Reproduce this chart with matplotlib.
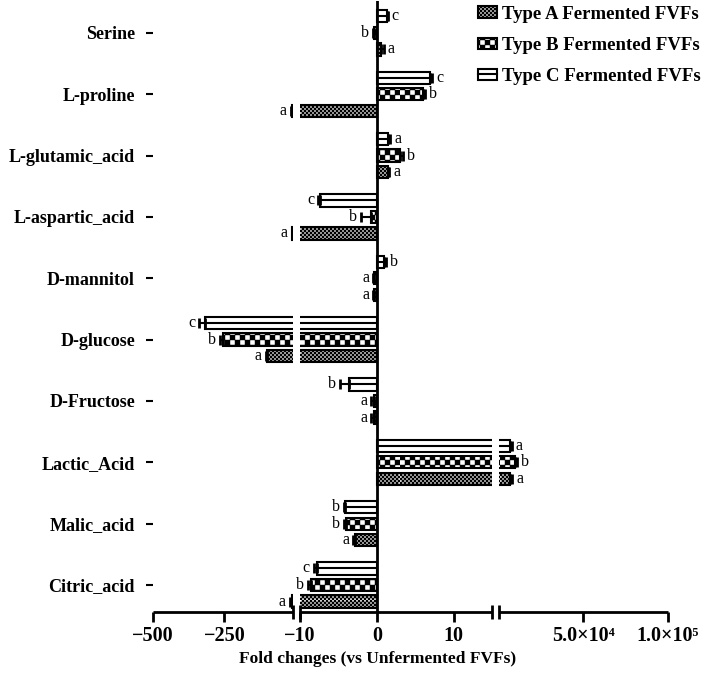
import numpy as np
import matplotlib
matplotlib.use('Agg')
import matplotlib.pyplot as plt
from matplotlib import hatch as mhatch
from matplotlib.path import Path
from matplotlib.patches import Patch, Rectangle
from matplotlib.lines import Line2D
from matplotlib.legend_handler import HandlerBase

# data (bottom -> top)
compounds = ['Citric_acid', 'Malic_acid', 'Lactic_Acid', 'D-Fructose', 'D-glucose',
             'D-mannitol', 'L-aspartic_acid', 'L-glutamic_acid', 'L-proline', 'Serine']
type_a = [-12, -2.8, 6800, -0.4, -100, -0.3, -12, 1.5, -14, 0.6]
type_b = [-8.6, -4.0, 9500, -0.4, -254, -0.3, -0.8, 3.0, 6.0, -0.3]
type_c = [-7.8, -4.2, 6500, -3.6, -318, 1.0, -7.4, 1.5, 6.9, 1.3]
err_a = [8, 0.25, 1200, 0.3, 4, 0.15, 2, 0.1, 3, 0.3]
err_b = [0.3, 0.3, 1200, 0.3, 10, 0.15, 1.3, 0.4, 0.3, 0.2]
err_c = [0.4, 0.1, 1000, 1.2, 20, 0.2, 0.2, 0.2, 0.3, 0.1]
letters_a = ['a', 'a', 'a', 'a', 'a', 'a', 'a', 'a', 'a', 'a']
letters_b = ['b', 'b', 'b', 'a', 'b', 'a', 'b', 'b', 'b', 'b']
letters_c = ['c', 'b', 'a', 'b', 'c', 'b', 'c', 'a', 'c', 'c']
series_labels = ['Type A Fermented FVFs', 'Type B Fermented FVFs', 'Type C Fermented FVFs']
tick_vals = [-500, -250, -10, 0, 10, 5e4, 1e5]
tick_text = ['\u2212500', '\u2212250', '\u221210', '0', '10', '5.0\u00d710\u2074', '1.0\u00d710\u2075']

plt.rcParams['font.family'] = ['Liberation Serif', 'DejaVu Serif']
plt.rcParams['hatch.linewidth'] = 0.3


# checkerboard hatch, replaces the '*' pattern
class Checker(mhatch.HatchPatternBase):
    def __init__(self, hatch, density):
        self.n = 10 * hatch.count('*')
        self.num_vertices = (self.n * self.n // 2) * 5

    def set_vertices_and_codes(self, vertices, codes):
        s = 1.0 / self.n
        sq = np.array([[0, 0], [s, 0], [s, s], [0, s], [0, 0]])
        parts = [sq + [i * s, j * s] for i in range(self.n) for j in range(self.n)
                 if (i + j) % 2 == 0]
        vertices[:] = np.concatenate(parts)
        c = [Path.MOVETO, Path.LINETO, Path.LINETO, Path.LINETO, Path.CLOSEPOLY]
        codes[:] = np.tile(c, len(parts))


mhatch._hatch_types = [t for t in mhatch._hatch_types if t is not mhatch.Stars] + [Checker]

hatch_a = '*****'
hatch_b = '**'


class StripeHandler(HandlerBase):
    def create_artists(self, legend, orig_handle, xdescent, ydescent, width, height,
                       fontsize, trans):
        r = Rectangle((-xdescent, -ydescent), width, height, facecolor='white',
                      edgecolor='black', lw=1.5, transform=trans)
        l = Line2D([-xdescent, -xdescent + width], [-ydescent + height / 2] * 2,
                   color='black', lw=1.5, transform=trans)
        return [r, l]


# broken x axis as a piecewise linear scale
brk_data = [-500, -10.02, -10, 15, 15.02, 1e5]
brk_px = [153, 293, 300, 492, 499, 668]


def fwd(x):
    return np.interp(x, brk_data, brk_px)


def inv(p):
    return np.interp(p, brk_px, brk_data)


fig = plt.figure(figsize=(7.09, 6.76), dpi=100)
ax = fig.add_axes([153 / 709, 64 / 676, 515 / 709, 611 / 676])
ax.set_xscale('function', functions=(fwd, inv))

y = np.arange(len(compounds))
off = 0.27
h = 0.2

ax.barh(y - off, type_a, height=h, color='white', edgecolor='black', lw=1.5,
        hatch=hatch_a, zorder=2)
ax.barh(y, type_b, height=h, color='white', edgecolor='black', lw=1.5,
        hatch=hatch_b, zorder=2)
ax.barh(y + off, type_c, height=h, color='white', edgecolor='black', lw=1.5, zorder=2)
ax.hlines(y + off, 0, type_c, color='black', lw=1.5, zorder=2.5)


def draw_err(vals, errs, ypos, letters):
    vals = np.array(vals, dtype=float)
    errs = np.array(errs, dtype=float)
    lo = np.where(vals < 0, errs, 0)
    hi = np.where(vals >= 0, errs, 0)
    ax.errorbar(vals, ypos, xerr=[lo, hi], fmt='none', ecolor='black',
                elinewidth=1.5, capsize=3.5, capthick=2, zorder=3)
    for v, e, yy, t in zip(vals, errs, ypos, letters):
        sgn = 1 if v >= 0 else -1
        ax.annotate(t, (v + sgn * e, yy), xytext=(sgn * 3, 0), textcoords='offset points',
                    ha='left' if sgn > 0 else 'right', va='center', fontsize=11.5,
                    zorder=6)


draw_err(type_a, err_a, y - off, letters_a)
draw_err(type_b, err_b, y, letters_b)
draw_err(type_c, err_c, y + off, letters_c)

# white gaps where the axis is broken
ax.axvspan(-10.02, -10, color='white', lw=0, zorder=4)
ax.axvspan(15, 15.02, color='white', lw=0, zorder=4)

ax.axvline(0, color='black', lw=2, zorder=5)

for s in ax.spines.values():
    s.set_visible(False)
xt = ax.get_xaxis_transform()
for a, b in [(-500, -10.02), (-10, 15), (15.02, 1e5)]:
    ax.plot([a, b], [0, 0], color='black', lw=2, transform=xt, clip_on=False,
            solid_capstyle='butt', zorder=5)
ax.plot([-10.02, -10, 15, 15.02], [0, 0, 0, 0], ls='none', marker='|', ms=10,
        mew=2, color='black', transform=xt, clip_on=False, zorder=5)

ax.set_xlim(-500, 1e5)
ax.set_ylim(-0.44, 9.52)
ax.set_xticks(tick_vals)
ax.set_xticklabels(tick_text, fontsize=14.5, fontweight='bold')
ax.set_yticks(y)
ax.set_yticklabels(compounds, fontsize=13, fontweight='bold')
ax.tick_params(axis='x', length=7, width=2, pad=3)
ax.tick_params(axis='y', length=5, width=1.5, pad=8)
ax.minorticks_off()

ax.set_xlabel('Fold changes (vs Unfermented FVFs)', fontsize=12.5, fontweight='bold')
ax.xaxis.set_label_coords((378 - 153) / 515, -0.064)

pa = Patch(facecolor='white', edgecolor='black', lw=1.5, hatch=hatch_a)
pb = Patch(facecolor='white', edgecolor='black', lw=1.5, hatch=hatch_b)
pc = Patch(facecolor='white', edgecolor='black', lw=1.5)
fig.legend([pa, pb, pc], series_labels, handler_map={pc: StripeHandler()},
           loc='upper left', bbox_to_anchor=(474 / 709, 1 - 2 / 676), frameon=False,
           prop={'size': 13.5, 'weight': 'bold'}, handlelength=1.05, handleheight=0.55,
           handletextpad=0.25, labelspacing=0.75, borderpad=0.2, borderaxespad=0)

fig.savefig('out.png', dpi=100)
